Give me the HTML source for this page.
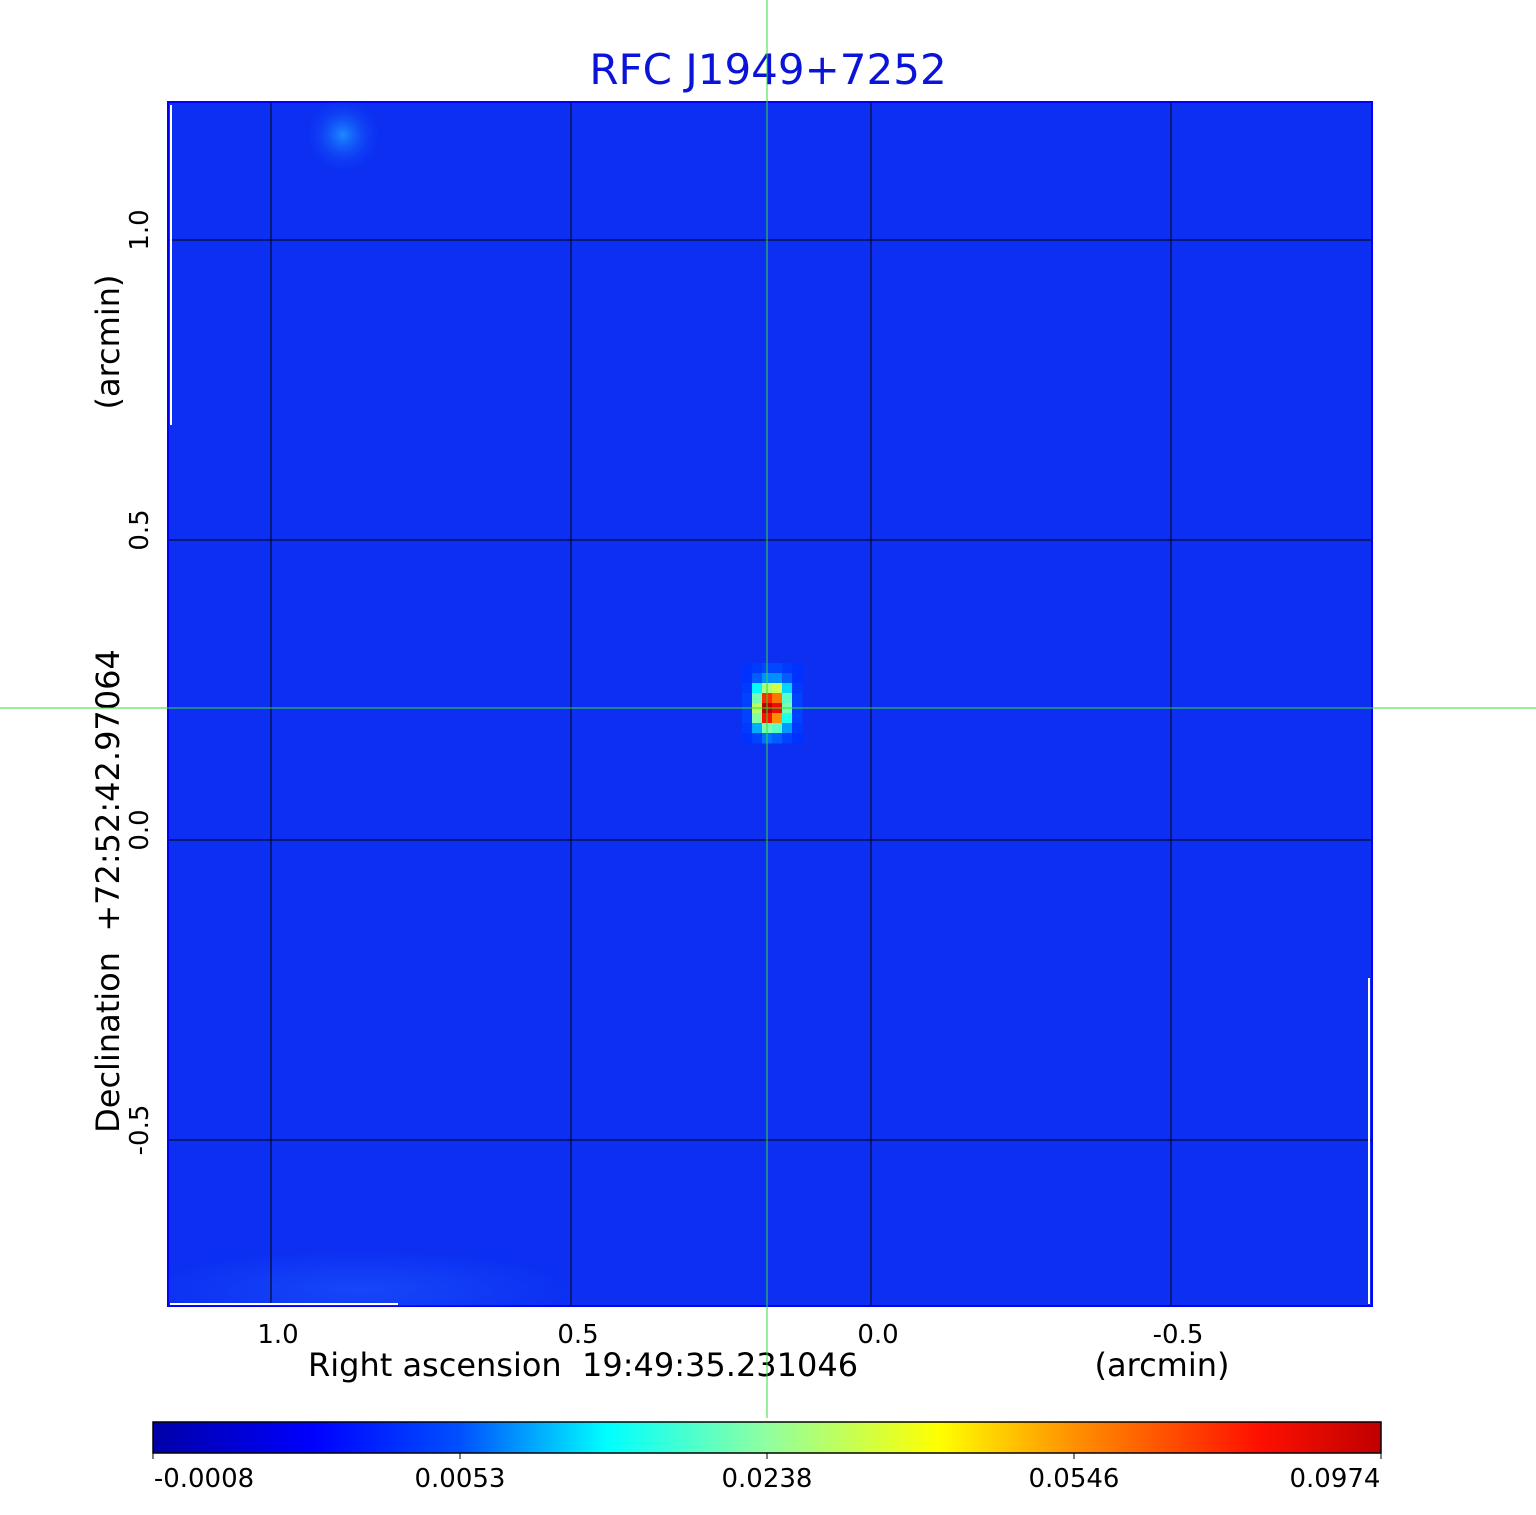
<!DOCTYPE html>
<html><head><meta charset="utf-8"><style>
body{margin:0;background:#fff;width:1536px;height:1511px;overflow:hidden;font-family:"DejaVu Sans","Liberation Sans",sans-serif}
</style></head><body>
<svg id="chart" width="1536" height="1511" xmlns="http://www.w3.org/2000/svg" font-family="DejaVu Sans, Liberation Sans, sans-serif">
<defs>
<linearGradient id="jet" x1="0" x2="1" y1="0" y2="0">
<stop offset="0" stop-color="#0000a8"/><stop offset="0.13" stop-color="#0000ff"/>
<stop offset="0.25" stop-color="#0050ff"/><stop offset="0.37" stop-color="#00ffff"/>
<stop offset="0.5" stop-color="#90ffa0"/><stop offset="0.64" stop-color="#ffff00"/>
<stop offset="0.75" stop-color="#ff9000"/>
<stop offset="0.9" stop-color="#ff1000"/><stop offset="1" stop-color="#c00000"/>
</linearGradient>
<radialGradient id="blob" cx="0.5" cy="0.5" r="0.5"><stop offset="0" stop-color="#1c8cff"/><stop offset="1" stop-color="#0c30f4" stop-opacity="0"/></radialGradient>
<radialGradient id="arc" cx="0.5" cy="0.5" r="0.5"><stop offset="0" stop-color="#2060ff" stop-opacity="0.5"/><stop offset="1" stop-color="#2060ff" stop-opacity="0"/></radialGradient>
<clipPath id="pclip"><rect x="168" y="102" width="1204" height="1204"/></clipPath>
</defs>
<text x="768" y="84" font-size="42" fill="#0a14d8" text-anchor="middle">RFC J1949+7252</text>
<g id="map">
<rect x="168" y="102" width="1204" height="1204" fill="#0c2ff2" stroke="#0000ff" stroke-width="2"/>
<g clip-path="url(#pclip)">
<ellipse cx="343" cy="135" rx="40" ry="40" fill="url(#blob)"/>
<ellipse cx="360" cy="1290" rx="220" ry="40" fill="url(#arc)"/>
</g>
<g id="cells"></g>
<g id="grid" stroke="#000" stroke-width="1"></g>
<line x1="171" y1="105" x2="171" y2="425" stroke="#fff" stroke-width="2"/>
<line x1="170" y1="1304" x2="398" y2="1304" stroke="#fff" stroke-width="2"/>
<line x1="1369" y1="978" x2="1369" y2="1304" stroke="#fff" stroke-width="2"/>
</g>
<g id="xticks" font-size="26" fill="#000" text-anchor="middle"></g>
<g id="yticks" font-size="26" fill="#000" text-anchor="middle"></g>
<text x="308" y="1376" font-size="32" xml:space="preserve">Right ascension  19:49:35.231046</text>
<text x="1162" y="1376" font-size="32" text-anchor="middle">(arcmin)</text>
<text transform="translate(119,891) rotate(-90)" font-size="32" text-anchor="middle" xml:space="preserve">Declination  +72:52:42.97064</text>
<text transform="translate(119,342) rotate(-90)" font-size="32" text-anchor="middle">(arcmin)</text>
<line x1="767" y1="0" x2="767" y2="1418" stroke="#33dd33" stroke-width="1"/>
<line x1="0" y1="708" x2="1536" y2="708" stroke="#33dd33" stroke-width="1"/>
<rect x="153" y="1422" width="1228" height="31" fill="url(#jet)" stroke="#000" stroke-width="1.5"/>
<g id="cbticks" font-size="26" fill="#000" text-anchor="middle"></g>
</svg>
<script>
const xTickLabels=["1.0","0.5","0.0","-0.5"];
const xTickValues=[1.0,0.5,0.0,-0.5];
const yTickLabels=["1.0","0.5","0.0","-0.5"];
const yTickValues=[1.0,0.5,0.0,-0.5];
const cbTickLabels=["-0.0008","0.0053","0.0238","0.0546","0.0974"];
const cbTickValues=[-0.0008,0.0053,0.0238,0.0546,0.0974];
// source pixel intensities (Jy/beam), rows top->bottom, cols left->right
const srcCols=[-6,-5,-4,-3,-2,-1];
const srcRows=[-4,-3,-2,-1,0,1,2,3];
const srcValues=[
[0.0042,0.0045,0.0050,0.0050,0.0045,0.0042],
[0.0042,0.0060,0.0085,0.0085,0.0060,0.0042],
[0.0045,0.0140,0.0280,0.0330,0.0120,0.0045],
[0.0048,0.0220,0.0750,0.0600,0.0200,0.0048],
[0.0048,0.0300,0.0974,0.0850,0.0220,0.0048],
[0.0048,0.0230,0.0800,0.0550,0.0160,0.0048],
[0.0045,0.0100,0.0220,0.0200,0.0090,0.0045],
[0.0042,0.0048,0.0070,0.0060,0.0048,0.0042]];
const NS="http://www.w3.org/2000/svg";
const xs=v=>871-v*600, ys=v=>840-v*600;
const cbx=v=>{for(let i=0;i<cbTickValues.length-1;i++){if(v<=cbTickValues[i+1]){return 153+(i+(v-cbTickValues[i])/(cbTickValues[i+1]-cbTickValues[i]))*307;}}return 1381;};
const stops=[[0,[0,0,168]],[0.13,[0,0,255]],[0.25,[0,80,255]],[0.37,[0,255,255]],[0.5,[144,255,160]],[0.64,[255,255,0]],[0.75,[255,144,0]],[0.9,[255,16,0]],[1,[192,0,0]]];
function col(v){const t=(cbx(v)-153)/1228;for(let i=0;i<stops.length-1;i++){const[a,ca]=stops[i],[b,cb]=stops[i+1];if(t<=b){const f=(t-a)/(b-a);return `rgb(${ca.map((c,k)=>Math.round(c+(cb[k]-c)*f)).join(',')})`;}}return 'rgb(192,0,0)';}
const cells=document.getElementById('cells');
srcRows.forEach((r,i)=>srcCols.forEach((c,j)=>{const el=document.createElementNS(NS,'rect');


el.setAttribute('x',802+c*10);el.setAttribute('y',703+r*10);el.setAttribute('width',10.5);el.setAttribute('height',10.5);el.setAttribute('fill',col(srcValues[i][j]));cells.appendChild(el);}));
const grid=document.getElementById('grid');
xTickValues.forEach(v=>{const l=document.createElementNS(NS,'line');


l.setAttribute('x1',xs(v));l.setAttribute('x2',xs(v));l.setAttribute('y1',103);l.setAttribute('y2',1305);grid.appendChild(l);});
yTickValues.forEach(v=>{const l=document.createElementNS(NS,'line');


l.setAttribute('y1',ys(v));l.setAttribute('y2',ys(v));l.setAttribute('x1',169);l.setAttribute('x2',1371);grid.appendChild(l);});
const xt=document.getElementById('xticks');
xTickValues.forEach((v,i)=>{const t=document.createElementNS(NS,'text');


t.setAttribute('x',xs(v)+7);t.setAttribute('y',1343);t.textContent=xTickLabels[i];xt.appendChild(t);});
const yt=document.getElementById('yticks');
yTickValues.forEach((v,i)=>{const t=document.createElementNS(NS,'text');


t.setAttribute('transform',`translate(148,${ys(v)-10}) rotate(-90)`);t.textContent=yTickLabels[i];yt.appendChild(t);});
const cbt=document.getElementById('cbticks');
cbTickValues.forEach((v,i)=>{const x=cbx(v);const l=document.createElementNS(NS,'line');


l.setAttribute('x1',x);l.setAttribute('x2',x);l.setAttribute('y1',1453);l.setAttribute('y2',1459);l.setAttribute('stroke','#000');cbt.appendChild(l);
const t=document.createElementNS(NS,'text');


t.setAttribute('x',i==0?x+51:(i==cbTickValues.length-1?x-46:x));t.setAttribute('y',1487);t.textContent=cbTickLabels[i];cbt.appendChild(t);});
</script>
</body></html>
